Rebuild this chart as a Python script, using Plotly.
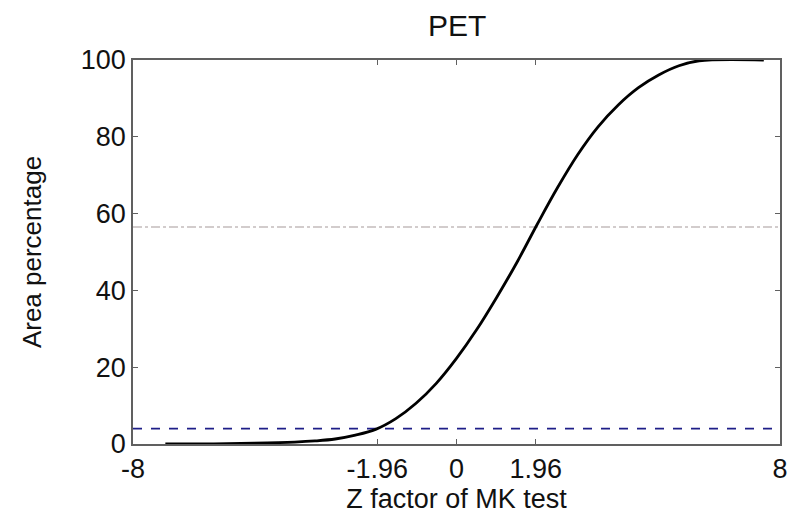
import plotly.graph_objects as go

# Data
z_vals = [-7.2, -6, -5, -4, -3.5, -3, -2.5, -2, -1.5, -1, -0.5, 0, 0.5, 1, 1.5, 2,
          2.5, 3, 3.5, 4, 4.5, 5, 5.5, 6, 7.6]
area_pct = [0, 0.05, 0.2, 0.5, 0.8, 1.3, 2.3, 3.8, 6.6, 10.6, 15.8, 22.3, 29.8, 38.3, 47.4, 57.3,
            66.8, 75.4, 82.6, 88.3, 92.8, 96.1, 98.5, 99.8, 100]
upper_ref = 56.5
lower_ref = 4.0
x_range = [-8, 8]
x_ticks = [-8, -1.96, 0, 1.96, 8]
x_tick_text = ["-8", "-1.96", "0", "1.96", "8"]
y_ticks = [0, 20, 40, 60, 80, 100]

fig = go.Figure()
fig.add_trace(go.Scatter(x=x_range, y=[upper_ref, upper_ref], mode="lines",
                         line=dict(color="#c4bcbc", width=1.5, dash="dashdot"),
                         hoverinfo="skip"))
fig.add_trace(go.Scatter(x=x_range, y=[lower_ref, lower_ref], mode="lines",
                         line=dict(color="#1e1e88", width=1.8, dash="dash"),
                         hoverinfo="skip"))
fig.add_trace(go.Scatter(x=z_vals, y=area_pct, mode="lines",
                         line=dict(color="black", width=2.8, shape="spline", smoothing=1.0)))

font_family = "Liberation Sans, Arial, sans-serif"
axis_common = dict(showline=True, linecolor="#606060", linewidth=1.5, mirror="ticks",
                   ticks="inside", ticklen=5, tickcolor="#606060", showgrid=False,
                   zeroline=False, automargin=False,
                   tickfont=dict(size=27, color="#111", family=font_family))

fig.update_layout(
    width=795, height=516,
    margin=dict(l=133, r=15, t=60, b=72),
    paper_bgcolor="white", plot_bgcolor="white",
    showlegend=False,
    title=dict(text="PET", x=0.575, xanchor="center", y=0.95, yanchor="middle",
               font=dict(size=30, color="#111", family=font_family)),
    xaxis=dict(range=x_range, tickmode="array", tickvals=x_ticks, ticktext=x_tick_text,
               title=dict(text="Z factor of MK test", standoff=6,
                          font=dict(size=27, color="#111", family=font_family)),
               **axis_common),
    yaxis=dict(range=[0, 100], tickmode="array", tickvals=y_ticks,
               title=dict(text="Area percentage", standoff=32,
                          font=dict(size=26, color="#111", family=font_family)),
               **axis_common),
)

fig.write_html("out.html")
